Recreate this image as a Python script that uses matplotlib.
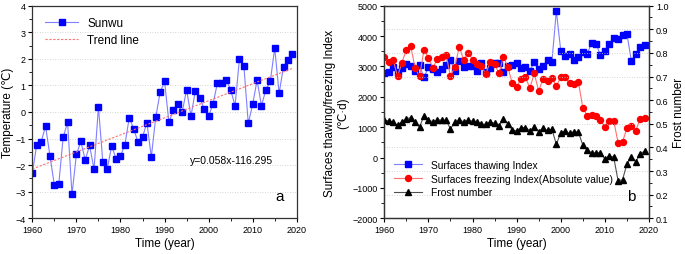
import numpy as np
import matplotlib
matplotlib.use('Agg')
import matplotlib.pyplot as plt
from matplotlib.ticker import MultipleLocator

plt.rcParams['font.family'] = ['Liberation Sans', 'DejaVu Sans']

# 数据 (a) 孙吴年平均气温
years = list(range(1960, 2020))
temp = [-2.31, -1.23, -1.13, -0.53, -1.65, -2.76, -2.71, -0.95, -0.39, -3.10,
        -1.60, -1.11, -1.80, -1.26, -2.16, 0.19, -1.89, -2.14, -1.28, -1.76,
        -1.66, -1.23, -0.21, -0.64, -1.14, -0.95, -0.40, -1.70, -0.20, 0.74,
        1.15, -0.39, 0.09, 0.30, -0.01, 0.84, -0.16, 0.80, 0.54, 0.11,
        -0.15, 0.30, 1.09, 1.09, 1.20, 0.84, 0.23, 2.00, 1.74, -0.43,
        0.29, 1.19, 0.23, 0.84, 1.15, 2.41, 0.70, 1.71, 1.95, 2.19]

# 数据 (b) 地表融化/冻结指数与冻结数
thawing = [2779, 2823, 2989, 2823, 2945, 3066, 3022, 2856, 3033, 2635,
           2967, 2900, 2823, 2922, 3033, 3199, 2834, 3177, 2978, 3000,
           3000, 2856, 3111, 2812, 2934, 3111, 3111, 2812, 3022, 3044,
           3100, 2945, 2989, 2856, 3144, 2922, 3022, 3221, 3155, 4826,
           3520, 3332, 3410, 3210, 3321, 3487, 3421, 3764, 3753, 3365,
           3498, 3753, 3941, 3897, 4018, 4074, 3188, 3421, 3631, 3720]
freezing = [3299, 3133, 3221, 2668, 3122, 3553, 3664, 2934, 2679, 3542,
            3288, 2956, 3232, 3321, 3387, 2679, 2978, 3653, 3199, 3454,
            3221, 3077, 3000, 2756, 3144, 3066, 2779, 3310, 2989, 2446,
            2325, 2590, 2635, 2291, 2767, 2192, 2601, 2524, 2624, 2358,
            2635, 2635, 2446, 2435, 2491, 1638, 1373, 1395, 1351, 1240,
            996, 1218, 1218, 487, 509, 974, 1041, 875, 1273, 1317]
frost = [0.516, 0.512, 0.508, 0.494, 0.508, 0.521, 0.526, 0.509, 0.486, 0.535,
         0.515, 0.509, 0.516, 0.516, 0.515, 0.479, 0.506, 0.515, 0.509, 0.514,
         0.511, 0.509, 0.498, 0.498, 0.508, 0.502, 0.492, 0.519, 0.501, 0.475,
         0.469, 0.484, 0.484, 0.471, 0.485, 0.467, 0.481, 0.472, 0.477, 0.413,
         0.462, 0.469, 0.459, 0.467, 0.465, 0.410, 0.387, 0.378, 0.376, 0.378,
         0.350, 0.364, 0.359, 0.259, 0.263, 0.329, 0.361, 0.339, 0.373, 0.384]

fig = plt.figure(figsize=(6.85, 2.55), dpi=100)
ax1 = fig.add_axes([0.0472, 0.14, 0.386, 0.834])
ax2 = fig.add_axes([0.561, 0.14, 0.3864, 0.834])

tick_fs = 6.5
lab_fs = 8.5

# ---- 左图 ----
ax1.plot(years, temp, color='#7f7fff', lw=0.8, marker='s', ms=3.9,
         mfc='#0000ff', mec='#0000ff', label='Sunwu')
k, b = np.polyfit(years, temp, 1)
yr = np.array([years[0], years[-1]])
ax1.plot(yr, k * yr + b, color='#ff7070', lw=0.8, ls=(0, (2, 1.5)), label='Trend line')
ax1.set_xlim(1960, 2020)
ax1.set_ylim(-4, 4)
ax1.xaxis.set_major_locator(MultipleLocator(10))
ax1.yaxis.set_major_locator(MultipleLocator(1))
ax1.yaxis.set_minor_locator(MultipleLocator(0.5))
ax1.xaxis.set_minor_locator(MultipleLocator(5))
ax1.grid(axis='y', which='major', color='#c8c8c8', ls=(0, (1, 2)), lw=0.6)
ax1.set_xlabel('Time (year)', fontsize=lab_fs, labelpad=2)
ax1.set_ylabel('Temperature (℃)', fontsize=lab_fs, labelpad=1)
ax1.text(0.596, 0.274, 'y=0.058x-116.295', transform=ax1.transAxes, fontsize=7.5, va='center')
ax1.text(0.95, 0.07, 'a', transform=ax1.transAxes, fontsize=11, ha='right', va='bottom')
ax1.legend(loc='upper left', frameon=False, fontsize=8.5, handlelength=2.8,
           bbox_to_anchor=(0.03, 0.97), borderaxespad=0, labelspacing=0.45)

# ---- 右图 ----
ax2.plot(years, thawing, color='#7f7fff', lw=0.8, marker='s', ms=3.9,
         mfc='#0000ff', mec='#0000ff', label='Surfaces thawing Index')
ax2.plot(years, freezing, color='#ff7070', lw=0.8, marker='o', ms=4.3,
         mfc='#ff0000', mec='#ff0000', label='Surfaces freezing Index(Absolute value)')
ax2.set_xlim(1960, 2020)
ax2.set_ylim(-2000, 5000)
ax2.xaxis.set_major_locator(MultipleLocator(10))
ax2.xaxis.set_minor_locator(MultipleLocator(5))
ax2.yaxis.set_major_locator(MultipleLocator(1000))
ax2.yaxis.set_minor_locator(MultipleLocator(500))
ax2.set_xlabel('Time (year)', fontsize=lab_fs, labelpad=2)
ax2.set_ylabel('Surfaces thawing/freezing Index\n(℃·d)', fontsize=lab_fs, labelpad=2)

ax3 = ax2.twinx()
ax3.plot(years, frost, color='#505050', lw=0.8, marker='^', ms=4.3,
         mfc='black', mec='black', label='Frost number')
ax3.set_ylim(0.1, 1.0)
ax3.yaxis.set_major_locator(MultipleLocator(0.1))
ax3.yaxis.set_minor_locator(MultipleLocator(0.05))
ax3.yaxis.set_major_formatter(matplotlib.ticker.FormatStrFormatter('%.1f'))
ax3.grid(axis='y', which='major', color='#c8c8c8', ls=(0, (1, 2)), lw=0.6)
ax3.set_ylabel('Frost number', fontsize=lab_fs, labelpad=3)
ax3.text(0.95, 0.07, 'b', transform=ax3.transAxes, fontsize=11, ha='right', va='bottom')

h1, l1 = ax2.get_legend_handles_labels()
h2, l2 = ax3.get_legend_handles_labels()
ax3.legend(h1 + h2, l1 + l2, loc='lower left', frameon=False, fontsize=7.4,
           handlelength=2.8, bbox_to_anchor=(0.02, 0.08), borderaxespad=0,
           labelspacing=0.35)

for ax in (ax1, ax2, ax3):
    ax.tick_params(labelsize=tick_fs, length=3, width=0.8, pad=2)
    ax.tick_params(which='minor', length=2, width=0.6)
    for s in ax.spines.values():
        s.set_linewidth(0.9)
        s.set_color('#333333')

fig.savefig('out.png', dpi=100)
